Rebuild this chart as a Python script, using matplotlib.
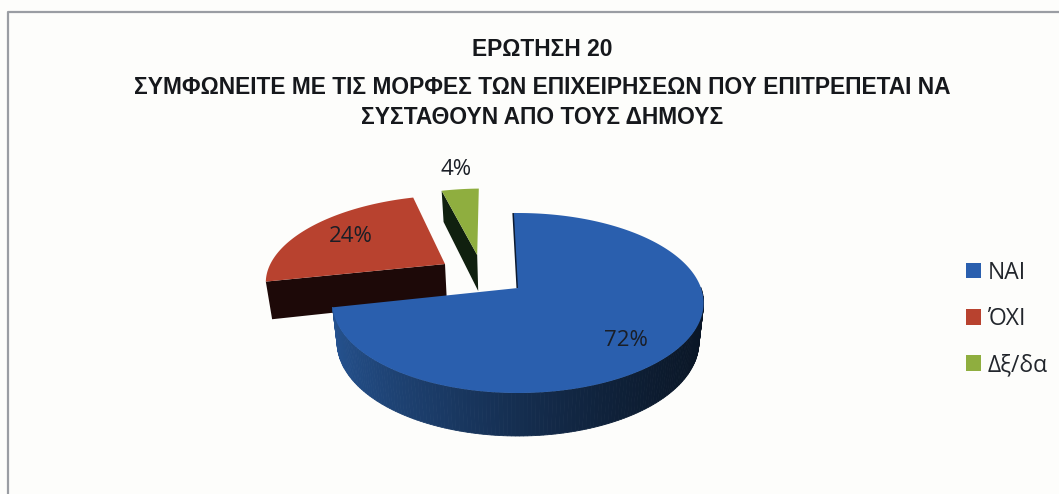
import numpy as np
import matplotlib
matplotlib.use("Agg")
import matplotlib.pyplot as plt
from matplotlib.patches import Patch

title_lines = ["ΕΡΩΤΗΣΗ 20",
               "ΣΥΜΦΩΝΕΙΤΕ ΜΕ ΤΙΣ ΜΟΡΦΕΣ ΤΩΝ ΕΠΙΧΕΙΡΗΣΕΩΝ ΠΟΥ ΕΠΙΤΡΕΠΕΤΑΙ ΝΑ",
               "ΣΥΣΤΑΘΟΥΝ ΑΠΟ ΤΟΥΣ ΔΗΜΟΥΣ"]
categories = ["ΝΑΙ", "ΌΧΙ", "Δξ/δα"]
values = [72, 24, 4]
top_colors = ["#2a5fae", "#b8422f", "#8fae3f"]
side_start = ["#0a1626", "#1d0908", "#10200f"]
side_end = ["#25528f", "#1d0908", "#10200f"]
explode = [(0.0, 0.0), (-0.418, 0.287), (-0.238, 0.402)]
label_pos = [(626, 340), (351, 236), (456, 169)]

W, H = 1059, 494
CX, CY, F, G, K = 518, 288, 183, 87.5, 1 / 6


def project(u, v):
    d = 1 + K * v
    return CX + F * u / d, CY - G * v / d


def lower(x, y, v):
    return CX + (x - CX) * 0.975, y + 38 - 5 * v


def lerp(a, b, t):
    a, b = matplotlib.colors.to_rgb(a), matplotlib.colors.to_rgb(b)
    return tuple(p + (q - p) * t for p, q in zip(a, b))


plt.rcParams["font.family"] = ["Open Sans", "Noto Sans", "DejaVu Sans"]
fig = plt.figure(figsize=(W / 100, H / 100), dpi=100, facecolor="#fdfdfb")
ax = fig.add_axes([0, 0, 1, 1])
ax.set_xlim(0, W)
ax.set_ylim(H, 0)
ax.axis("off")

ax.plot([8, 8, W + 5], [H + 5, 12, 12], color="#9a9da3", lw=1.6, zorder=1)

spans = np.array(values) / sum(values) * 360
start = 91.5
angles = []
for s in spans:
    angles.append((start, start - s))
    start -= s

for i in (1, 2, 0):
    a0, a1 = angles[i]
    ou, ov = explode[i]
    t = np.radians(np.linspace(a0, a1, 240))
    u = ou + np.cos(t)
    v = ov + np.sin(t)
    x, y = project(u, v)
    vx, vy = project(ou, ov)
    z = 10 + 2 * (i == 0)
    if i == 0:
        bx, by = lower(x, y, v)
        for j in range(len(t) - 1):
            if np.sin(t[j]) > 0.02:
                continue
            w = (x[j] - x.min()) / (x.max() - x.min())
            c = lerp(side_end[i], side_start[i], min(1, w ** 0.75))
            ax.fill([x[j], x[j + 1], bx[j + 1], bx[j]], [y[j], y[j + 1], by[j + 1], by[j]],
                    color=c, lw=0.6, zorder=z)
        ax.plot([x[0], vx], [y[0], vy], color="#0c1a30", lw=2.2, zorder=z, solid_capstyle="butt")
    else:
        bx0, by0 = lower(x[0], y[0], v[0])
        bvx, bvy = lower(vx, vy, ov)
        ax.fill([x[0], vx, bvx, bx0], [y[0], vy, bvy, by0], color=side_start[i], lw=0, zorder=z)
    ax.fill(np.r_[vx, x], np.r_[vy, y], color=top_colors[i], lw=0, zorder=z + 1)

for val, (px, py) in zip(values, label_pos):
    ax.text(px, py, f"{val}%", ha="center", va="center", fontsize=16, color="#1a1e26", zorder=30)

title_y = [50, 87, 117]
for line, ty in zip(title_lines, title_y):
    ax.text(542, ty, line, ha="center", va="center", fontsize=16.4,
            family=["Liberation Sans", "DejaVu Sans"], fontweight="bold", color="#16181c")

handles = [Patch(facecolor=c, edgecolor="none") for c in top_colors]
ax.legend(handles, categories, loc="center left", bbox_to_anchor=(966 / W, 1 - 319 / H),
          frameon=False, fontsize=16.5, handlelength=0.66, handleheight=0.66, handletextpad=0.3,
          labelspacing=0.97, borderpad=0, borderaxespad=0, labelcolor="#22262c")

fig.savefig("out.png", dpi=100, facecolor=fig.get_facecolor())
